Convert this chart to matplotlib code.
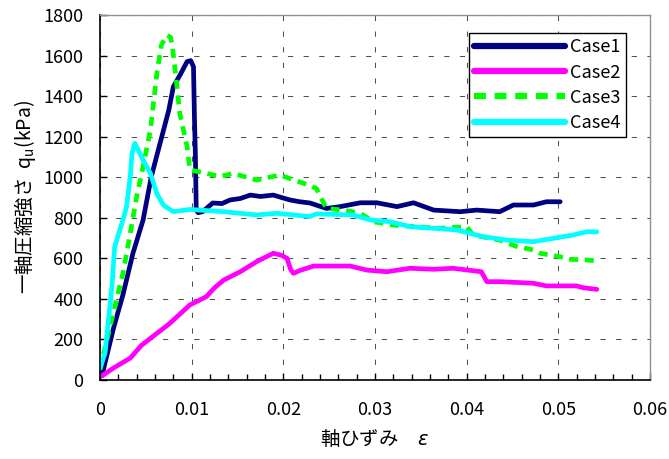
import matplotlib
matplotlib.use("Agg")
import matplotlib.pyplot as plt
from matplotlib.ticker import MultipleLocator

plt.rcParams['font.family'] = ['Noto Sans CJK JP', 'DejaVu Sans']

# ---- data ----
case1_x = [0.0002, 0.0015, 0.0025, 0.0036, 0.0047, 0.0056, 0.0067, 0.0075, 0.0080, 0.0088, 0.0095, 0.0099,
           0.0102, 0.0103, 0.0104, 0.0105, 0.0107, 0.0112, 0.0123, 0.0133, 0.0142, 0.0153, 0.0164, 0.0175,
           0.0189, 0.0198, 0.0207, 0.0218, 0.0229, 0.0247, 0.0262, 0.0284, 0.0302, 0.0324, 0.0342, 0.0364,
           0.0393, 0.0411, 0.0436, 0.0451, 0.0473, 0.0487, 0.0502]
case1_y = [20, 260, 420, 626, 789, 1003, 1193, 1330, 1446, 1510, 1570, 1575,
           1545, 1300, 1120, 838, 825, 830, 873, 870, 888, 895, 912, 905,
           912, 900, 888, 879, 873, 846, 855, 874, 874, 855, 874, 838,
           830, 838, 830, 863, 863, 879, 879]

case2_x = [0.0002, 0.0015, 0.0033, 0.0045, 0.0062, 0.0075, 0.0084, 0.0098, 0.0116, 0.0125, 0.0135, 0.0153,
           0.0171, 0.0189, 0.0198, 0.0204, 0.0208, 0.0211, 0.0218, 0.0233, 0.0273, 0.0291, 0.0313, 0.0338,
           0.0364, 0.0385, 0.0416, 0.0422, 0.0436, 0.0473, 0.0487, 0.0520, 0.0527, 0.0542]
case2_y = [20, 60, 108, 170, 230, 275, 312, 370, 411, 455, 493, 534,
           584, 625, 615, 600, 545, 526, 540, 562, 562, 542, 534, 551,
           546, 551, 534, 485, 485, 477, 464, 464, 455, 447]

case3_x = [0.0, 0.0004, 0.00145, 0.0025, 0.0033, 0.0040, 0.0047, 0.0055, 0.0062, 0.0067, 0.0073, 0.0077,
           0.0079, 0.0084, 0.0087, 0.0095, 0.0098, 0.0116, 0.0131, 0.0145, 0.0171, 0.0196, 0.0222, 0.0236,
           0.0247, 0.0265, 0.0284, 0.0298, 0.0320, 0.0345, 0.0371, 0.0400, 0.0407, 0.0436, 0.0455, 0.0473,
           0.0480, 0.0502, 0.0513, 0.0531, 0.0542]
case3_y = [50, 131, 329, 526, 723, 904, 1052, 1233, 1512, 1652, 1701, 1690,
           1644, 1446, 1315, 1151, 1036, 1019, 1003, 1019, 986, 1011, 970, 945,
           846, 838, 822, 781, 764, 756, 748, 756, 715, 690, 658, 641,
           625, 608, 595, 592, 587]

case4_x = [0.0, 0.00055, 0.0013, 0.0016, 0.0025, 0.0029, 0.0033, 0.0035, 0.0038, 0.0041, 0.0047, 0.0055,
           0.0062, 0.0069, 0.0080, 0.0098, 0.0135, 0.0171, 0.0193, 0.0229, 0.0236, 0.0276, 0.0295, 0.0316,
           0.0338, 0.0364, 0.0389, 0.0418, 0.0444, 0.0473, 0.0495, 0.0516, 0.0531, 0.0542]
case4_y = [58, 133, 460, 657, 789, 855, 1003, 1118, 1167, 1140, 1085, 1019,
           920, 863, 830, 841, 830, 814, 822, 806, 819, 814, 789, 781,
           756, 748, 740, 707, 690, 682, 699, 715, 731, 731]

labels = ['Case1', 'Case2', 'Case3', 'Case4']
colors = ['#000080', '#FF00FF', '#00FF00', '#00FFFF']

x_ticks = [0, 0.01, 0.02, 0.03, 0.04, 0.05, 0.06]
x_ticklabels = ['0', '0.01', '0.02', '0.03', '0.04', '0.05', '0.06']
y_ticks = list(range(0, 1801, 200))

# ---- figure ----
fig = plt.figure(figsize=(6.69, 4.59), dpi=100)
ax = fig.add_axes([100/669, 1 - 380/459, 550/669, 365/459])

lw = 3.4
ax.plot(case1_x, case1_y, color=colors[0], lw=lw, label=labels[0], solid_capstyle='round', solid_joinstyle='round')
ax.plot(case2_x, case2_y, color=colors[1], lw=lw, label=labels[1], solid_capstyle='round', solid_joinstyle='round')
ax.plot(case3_x, case3_y, color=colors[2], lw=lw, label=labels[2], linestyle=(0, (1.9, 1.4)))
ax.plot(case4_x, case4_y, color=colors[3], lw=lw, label=labels[3], solid_capstyle='round', solid_joinstyle='round')

ax.set_xlim(0, 0.06)
ax.set_ylim(0, 1800)
ax.set_xticks(x_ticks)
ax.set_xticklabels(x_ticklabels)
ax.set_yticks(y_ticks)
ax.xaxis.set_minor_locator(MultipleLocator(0.002))

ax.grid(True, which='major', color='#505050', linestyle=(0, (5, 10)), linewidth=0.75)
ax.set_axisbelow(True)

ax.tick_params(axis='both', which='major', direction='in', length=5, width=1, labelsize=13, colors='black')
ax.tick_params(axis='x', which='major', pad=15)
ax.tick_params(axis='y', which='major', pad=12)
ax.tick_params(axis='x', which='minor', direction='in', length=4, width=1)

for s in ['left', 'bottom']:
    ax.spines[s].set_color('black')
    ax.spines[s].set_linewidth(1.2)
for s in ['top', 'right']:
    ax.spines[s].set_color('#909090')
    ax.spines[s].set_linewidth(1.0)

ax.set_xlabel('軸ひずみ\u3000$\\varepsilon$', fontsize=14, labelpad=7)
ax.set_ylabel('一軸圧縮強さ  q$_\\mathregular{u}$(kPa)', fontsize=14, labelpad=4)

leg = ax.legend(loc='upper left', bbox_to_anchor=(0.671, 0.951), borderaxespad=0,
                fancybox=False, edgecolor='black', framealpha=1, fontsize=13,
                handlelength=5.0, handletextpad=0.3, labelspacing=0.4, borderpad=0.3)
leg.get_frame().set_linewidth(1.0)
for line in leg.get_lines():
    line.set_linewidth(4.5)

fig.savefig('out.png', dpi=100)
